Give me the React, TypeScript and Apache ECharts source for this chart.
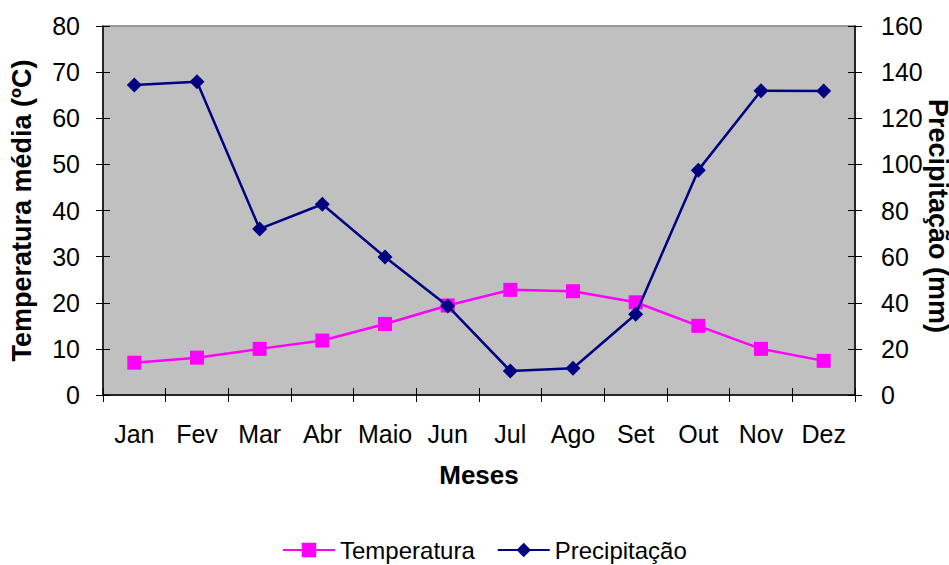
import React, { useEffect, useRef } from "react";
import * as echarts from "echarts";

const months = ["Jan", "Fev", "Mar", "Abr", "Maio", "Jun", "Jul", "Ago", "Set", "Out", "Nov", "Dez"];
const temperatura = [7.0, 8.1, 10.0, 11.8, 15.4, 19.4, 22.8, 22.5, 20.1, 15.0, 10.0, 7.4];
const precipitacao = [134.4, 135.8, 72.0, 82.7, 59.8, 38.6, 10.4, 11.6, 35.0, 97.5, 131.9, 131.8];

const FONT = "'Liberation Sans', Arial, sans-serif";

export default function App() {
  const ref = useRef<HTMLDivElement>(null);
  useEffect(() => {
    if (!ref.current) return;
    const chart = echarts.init(ref.current, undefined, { renderer: "svg" });
    const tickLen = 7;
    const baseY = (pos: "left" | "right", min: number, max: number, interval: number) => ({
      type: "value",
      position: pos,
      min,
      max,
      interval,
      splitLine: { show: false },
    });
    chart.setOption({
      animation: false,
      textStyle: { fontFamily: FONT },
      grid: {
        left: 103,
        right: 94,
        top: 26,
        bottom: 170,
        containLabel: false,
        outerBoundsMode: "none",
        show: true,
        backgroundColor: "#C0C0C0",
        borderColor: "#808080",
        borderWidth: 1.5,
      },
      legend: {
        left: 277,
        top: 533,
        itemWidth: 52,
        itemHeight: 18,
        itemGap: 22,
        textStyle: { fontSize: 24, color: "#000", fontFamily: FONT },
        data: ["Temperatura", "Precipitação"],
      },
      graphic: [
        {
          type: "text",
          x: 938,
          y: 216,
          rotation: -Math.PI / 2,
          style: {
            text: "Precipitação (mm)",
            fontFamily: FONT,
            fontSize: 27,
            fontWeight: "bold",
            fill: "#000",
            align: "center",
            verticalAlign: "middle",
          },
        },
      ],
      xAxis: [
        {
          type: "category",
          data: months,
          position: "bottom",
          boundaryGap: true,
          axisLine: { show: true, lineStyle: { color: "#000", width: 1.5 } },
          axisTick: { show: true, length: tickLen, lineStyle: { color: "#000" } },
          axisLabel: { fontSize: 25, color: "#000", margin: 26, interval: 0, fontFamily: FONT },
          name: "Meses",
          nameLocation: "middle",
          nameGap: 67,
          nameTextStyle: { fontSize: 26, fontWeight: "bold", color: "#000", fontFamily: FONT },
        },
        {
          type: "category",
          data: months,
          position: "bottom",
          boundaryGap: true,
          axisLine: { show: false },
          axisTick: { show: true, inside: true, length: tickLen, lineStyle: { color: "#000" } },
          axisLabel: { show: false },
        },
      ],
      yAxis: [
        {
          ...baseY("left", 0, 80, 10),
          axisLine: { show: true, lineStyle: { color: "#000", width: 1.5 } },
          axisTick: { show: true, length: tickLen, lineStyle: { color: "#000" } },
          axisLabel: { fontSize: 25, color: "#000", margin: 23, fontFamily: FONT },
          name: "Temperatura média (ºC)",
          nameLocation: "middle",
          nameGap: 68,
          nameTextStyle: { fontSize: 27, fontWeight: "bold", color: "#000", fontFamily: FONT },
        },
        {
          ...baseY("right", 0, 160, 20),
          axisLine: { show: true, lineStyle: { color: "#000", width: 1.5 } },
          axisTick: { show: true, length: tickLen, lineStyle: { color: "#000" } },
          axisLabel: { fontSize: 25, color: "#000", margin: 26, fontFamily: FONT },
        },
        {
          ...baseY("left", 0, 80, 10),
          axisLine: { show: false },
          axisTick: { show: true, inside: true, length: tickLen, lineStyle: { color: "#000" } },
          axisLabel: { show: false },
        },
        {
          ...baseY("right", 0, 160, 20),
          axisLine: { show: false },
          axisTick: { show: true, inside: true, length: tickLen, lineStyle: { color: "#000" } },
          axisLabel: { show: false },
        },
      ],
      series: [
        {
          name: "Temperatura",
          type: "line",
          xAxisIndex: 0,
          yAxisIndex: 0,
          data: temperatura,
          symbol: "rect",
          symbolSize: 14,
          itemStyle: { color: "#FF00FF" },
          lineStyle: { color: "#FF00FF", width: 2.5 },
          z: 2,
        },
        {
          name: "Precipitação",
          type: "line",
          xAxisIndex: 0,
          yAxisIndex: 1,
          data: precipitacao,
          symbol: "diamond",
          symbolSize: 15,
          itemStyle: { color: "#000080" },
          lineStyle: { color: "#000080", width: 2.5 },
          z: 3,
        },
      ],
    });
    return () => chart.dispose();
  }, []);
  return (
    <div
      ref={ref}
      style={{ position: "fixed", left: 0, top: 0, width: 949, height: 565, background: "#fff" }}
    />
  );
}
